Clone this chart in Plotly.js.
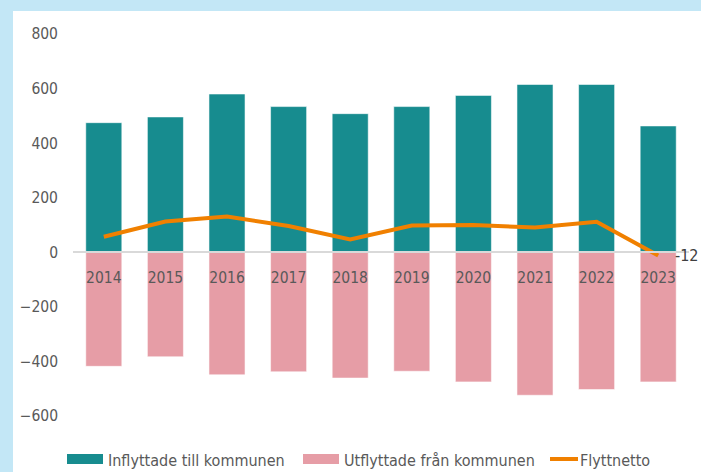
<!DOCTYPE html>
<html>
<head>
<meta charset="utf-8">
<script src="https://cdn.plot.ly/plotly-3.0.1.min.js"></script>
<style>
  html, body { margin: 0; padding: 0; background: #C3E7F6; width: 701px; height: 472px; overflow: hidden; }
  #chart { position: absolute; left: 13px; top: 11px; width: 688px; height: 461px; background: #fff; }
</style>
</head>
<body>
<div id="chart"></div>
<script>
// Data
const years = ['2014','2015','2016','2017','2018','2019','2020','2021','2022','2023'];
const inflyttade = [475, 496, 580, 534, 508, 534, 575, 615, 615, 463];
const utflyttade = [-418, -383, -449, -438, -461, -436, -475, -524, -503, -475];
const flyttnetto = [57, 113, 131, 96, 47, 98, 100, 91, 112, -12];
const seriesNames = ['Inflyttade till kommunen', 'Utflyttade från kommunen', 'Flyttnetto'];

const colTeal = '#178C8F';
const colPink = '#E69DA6';
const colOrange = '#F08000';
const txtCol = '#595959';
const FONT = '"DejaVu Sans Condensed", "Liberation Sans Narrow", sans-serif';

// layout geometry (div pixel coords)
const W = 688, H = 461;
const offX = 13, offY = 11; // div offset in page
const M = {l: 60, r: 12, t: 34 - offY, b: H - (416 - offY)};
const pw = W - M.l - M.r, ph = H - M.t - M.b;
const px = x => ((x - offX) - M.l) / pw;   // page x -> paper
const py = y => (H - M.b - (y - offY)) / ph; // page y -> paper

const yMin = -600, yMax = 800;

const traces = [
  {type: 'bar', name: seriesNames[0], x: years, y: inflyttade,
   marker: {color: colTeal, line: {color: 'rgba(255,255,255,0.55)', width: 1}}},
  {type: 'bar', name: seriesNames[1], x: years, y: utflyttade,
   marker: {color: colPink, line: {color: 'rgba(255,255,255,0.55)', width: 1}}},
  {type: 'scatter', mode: 'lines', name: seriesNames[2], x: years, y: flyttnetto,
   line: {color: colOrange, width: 4}}
];

const lastIdx = years.length - 1;

const shapes = [
  {type: 'rect', xref: 'paper', yref: 'paper', x0: px(67), x1: px(103), y0: py(464), y1: py(454),
   fillcolor: colTeal, line: {width: 0}},
  {type: 'rect', xref: 'paper', yref: 'paper', x0: px(303), x1: px(339), y0: py(464), y1: py(454),
   fillcolor: colPink, line: {width: 0}},
  {type: 'line', xref: 'paper', yref: 'paper', x0: px(550), x1: px(578), y0: py(459), y1: py(459),
   line: {color: colOrange, width: 4}}
];

const legFont = {family: FONT, size: 16, color: txtCol};
const annotations = [
  {xref: 'paper', yref: 'paper', x: px(106), y: py(460), xanchor: 'left', yanchor: 'middle',
   text: seriesNames[0], showarrow: false, font: legFont},
  {xref: 'paper', yref: 'paper', x: px(342), y: py(460), xanchor: 'left', yanchor: 'middle',
   text: seriesNames[1], showarrow: false, font: legFont},
  {xref: 'paper', yref: 'paper', x: px(578), y: py(460), xanchor: 'left', yanchor: 'middle',
   text: seriesNames[2], showarrow: false, font: legFont},
  {xref: 'x', yref: 'y', x: lastIdx, y: flyttnetto[lastIdx], xanchor: 'left', yanchor: 'middle',
   xshift: 15, yshift: 0,
   text: String(flyttnetto[lastIdx]), showarrow: false, font: {family: FONT, size: 16, color: '#404040'}}
];

const layout = {
  width: W, height: H,
  margin: M,
  paper_bgcolor: '#ffffff', plot_bgcolor: '#ffffff',
  barmode: 'relative', bargap: 0.415,
  showlegend: false,
  font: {family: FONT, size: 16, color: txtCol},
  xaxis: {
    type: 'category', range: [-0.5, years.length - 0.5], autorange: false,
    anchor: 'free', position: (0 - yMin) / (yMax - yMin),
    showline: true, linecolor: '#D9D9D9', linewidth: 2,
    showgrid: false, zeroline: false, ticks: '', ticklabelstandoff: 11,
    tickfont: {family: FONT, size: 15.5, color: txtCol}, fixedrange: true
  },
  yaxis: {
    range: [yMin, yMax], autorange: false, dtick: 200, tick0: 0,
    showgrid: false, zeroline: false, showline: false, ticks: '',
    ticklabelstandoff: 14,
    tickfont: {family: FONT, size: 15.5, color: txtCol}, fixedrange: true
  },
  shapes: shapes,
  annotations: annotations
};

Plotly.newPlot('chart', traces, layout, {displayModeBar: false, staticPlot: true});
</script>
</body>
</html>
